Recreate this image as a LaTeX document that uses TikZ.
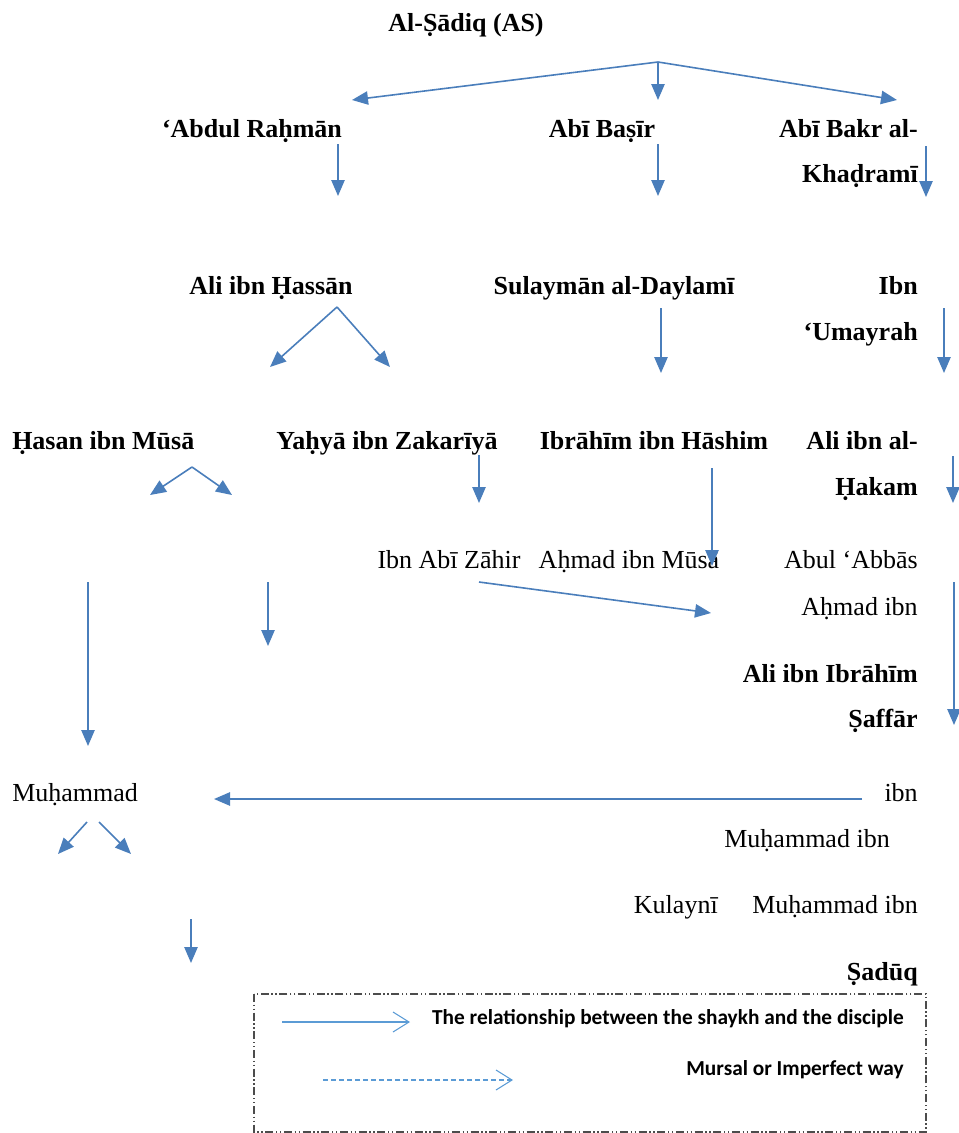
\documentclass[tikz,border=0pt]{standalone}
\usepackage{fontspec}
\setmainfont{Liberation Serif}
\newfontfamily\legendfont{Carlito}
\usetikzlibrary{arrows.meta}
\definecolor{linkblue}{HTML}{4A7EBB}
\definecolor{keyblue}{HTML}{5B9BD5}
\tikzset{
    >={Triangle[length=12pt,width=10pt]},
    link/.style={->,draw=linkblue,line width=1.2pt},
    boldname/.style={font=\fontsize{19.5}{23}\selectfont\bfseries,inner sep=0pt},
    plainname/.style={font=\fontsize{19.5}{23}\selectfont,inner sep=0pt},
    keytext/.style={font=\legendfont\fontsize{16}{19}\selectfont\bfseries,inner sep=0pt,anchor=base east},
    keyarrow/.style={-{Straight Barb[length=12pt,width=15pt]},draw=keyblue,line width=0.8pt},
    keybox/.style={draw=black!70,line width=0.8pt,dash pattern=on 6pt off 2pt on 1pt off 2pt on 1pt off 2pt}
}

\begin{document}
\begin{tikzpicture}[x=0.75pt,y=-0.75pt]
    \useasboundingbox (0,0) rectangle (959,1133);

    % Narrators
    \node[boldname,anchor=base] (sadiq) at (466,31) {Al-Ṣādiq (AS)};
    \node[boldname,anchor=base] (abdul) at (252,137) {‘Abdul Raḥmān};
    \node[boldname,anchor=base] (basir) at (602,137) {Abī Baṣīr};
    \node[boldname,anchor=base east] (bakr) at (918,137) {Abī Bakr al-};
    \node[boldname,anchor=base east] (khadrami) at (918,182) {Khaḍramī};
    \node[boldname,anchor=base] (hassan) at (271,294) {Ali ibn Ḥassān};
    \node[boldname,anchor=base] (daylami) at (614,294) {Sulaymān al-Daylamī};
    \node[boldname,anchor=base east] (ibn1) at (918,294) {Ibn};
    \node[boldname,anchor=base east] (umayrah) at (918,340) {‘Umayrah};
    \node[boldname,anchor=base west] (hasan) at (12,449) {Ḥasan ibn Mūsā};
    \node[boldname,anchor=base] (yahya) at (387,449) {Yaḥyā ibn Zakarīyā};
    \node[boldname,anchor=base] (hashim) at (654,449) {Ibrāhīm ibn Hāshim};
    \node[boldname,anchor=base east] (alial) at (918,449) {Ali ibn al-};
    \node[boldname,anchor=base east] (hakam) at (918,495) {Ḥakam};
    \node[plainname,anchor=base] (zahir) at (449,568) {Ibn Abī Zāhir};
    \node[plainname,anchor=base] (ahmad) at (629,568) {Aḥmad ibn Mūsā};
    \node[plainname,anchor=base east] (abbas) at (918,568) {Abul ‘Abbās};
    \node[plainname,anchor=base east] (ahmadibn) at (918,615) {Aḥmad ibn};
    \node[boldname,anchor=base east] (ibrahim) at (918,682) {Ali ibn Ibrāhīm};
    \node[boldname,anchor=base east] (saffar) at (918,727) {Ṣaffār};
    \node[plainname,anchor=base west] (muhammad) at (12,801) {Muḥammad};
    \node[plainname,anchor=base east] (ibn2) at (918,801) {ibn};
    \node[plainname,anchor=base east] (muhibn1) at (890,847) {Muḥammad ibn};
    \node[plainname,anchor=base east] (kulayni) at (718,913) {Kulaynī};
    \node[plainname,anchor=base east] (muhibn2) at (918,913) {Muḥammad ibn};
    \node[boldname,anchor=base east] (saduq) at (918,980) {Ṣadūq};

    % Arrow ends
    \coordinate (fork) at (658,62);
    \coordinate (t1) at (352,100);
    \coordinate (t2) at (658,100);
    \coordinate (t3) at (897,100);
    \coordinate (a1) at (338,144);
    \coordinate (a2) at (338,196);
    \coordinate (b1) at (658,144);
    \coordinate (b2) at (658,196);
    \coordinate (c1) at (926,146);
    \coordinate (c2) at (926,197);
    \coordinate (hf) at (337,307);
    \coordinate (hf1) at (270,367);
    \coordinate (hf2) at (390,367);
    \coordinate (d1) at (661,308);
    \coordinate (d2) at (661,373);
    \coordinate (e1) at (944,308);
    \coordinate (e2) at (944,373);
    \coordinate (sf) at (192,467);
    \coordinate (sf1) at (150,495);
    \coordinate (sf2) at (232,495);
    \coordinate (f1) at (479,455);
    \coordinate (f2) at (479,503);
    \coordinate (g1) at (712,468);
    \coordinate (g2) at (712,566);
    \coordinate (h1) at (953,456);
    \coordinate (h2) at (953,503);
    \coordinate (i1) at (479,582);
    \coordinate (i2) at (711,613);
    \coordinate (j1) at (88,582);
    \coordinate (j2) at (88,746);
    \coordinate (k1) at (268,582);
    \coordinate (k2) at (268,646);
    \coordinate (l1) at (954,582);
    \coordinate (l2) at (954,725);
    \coordinate (m1) at (862,799);
    \coordinate (m2) at (214,799);
    \coordinate (n1) at (87,822);
    \coordinate (n2) at (58,854);
    \coordinate (o1) at (99,822);
    \coordinate (o2) at (131,854);
    \coordinate (p1) at (191,919);
    \coordinate (p2) at (191,963);

    % Links
    \draw[link] (fork) -- (t1);
    \draw[link] (fork) -- (t2);
    \draw[link] (fork) -- (t3);
    \draw[link] (a1) -- (a2);
    \draw[link] (b1) -- (b2);
    \draw[link] (c1) -- (c2);
    \draw[link] (hf) -- (hf1);
    \draw[link] (hf) -- (hf2);
    \draw[link] (d1) -- (d2);
    \draw[link] (e1) -- (e2);
    \draw[link] (sf) -- (sf1);
    \draw[link] (sf) -- (sf2);
    \draw[link] (f1) -- (f2);
    \draw[link] (g1) -- (g2);
    \draw[link] (h1) -- (h2);
    \draw[link] (i1) -- (i2);
    \draw[link] (j1) -- (j2);
    \draw[link] (k1) -- (k2);
    \draw[link] (l1) -- (l2);
    \draw[link] (m1) -- (m2);
    \draw[link] (n1) -- (n2);
    \draw[link] (o1) -- (o2);
    \draw[link] (p1) -- (p2);

    % Legend
    \draw[keybox] (254,994) rectangle (926,1132);
    \coordinate (q1) at (282,1022);
    \coordinate (q2) at (410,1022);
    \coordinate (r1) at (323,1080);
    \coordinate (r2) at (513,1080);
    \draw[keyarrow] (q1) -- (q2);
    \draw[keyarrow,dash pattern=on 4pt off 2pt] (r1) -- (r2);
    \node[keytext] (keysolid) at (904,1024) {The relationship between the shaykh and the disciple};
    \node[keytext] (keydash) at (904,1075) {Mursal or Imperfect way};
\end{tikzpicture}
\end{document}
